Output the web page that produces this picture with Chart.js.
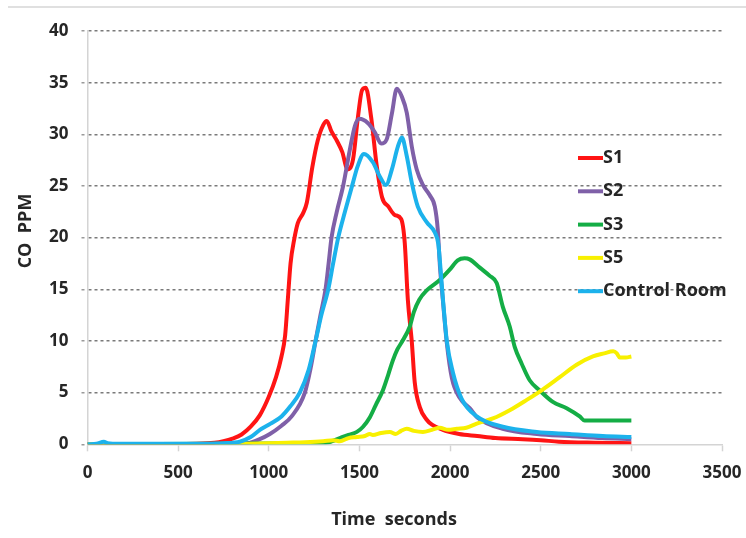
<!DOCTYPE html>
<html>
<head>
  <meta charset="UTF-8">
  <title>CO PPM</title>
  <script src="https://cdn.jsdelivr.net/npm/chart.js"></script>
  <style>
    body {
      margin: 0;
      background: #ffffff;
    }

    .chart-wrap {
      position: relative;
      width: 746px;
      height: 538px;
    }

    /* thin rule across the top of the figure */
    .chart-wrap .top-rule {
      position: absolute;
      left: 8px;
      right: 0;
      top: 6px;
      border-top: 2px solid #e0e0e0;
    }
  </style>
</head>
<body>

<div class="chart-wrap">
  <div class="top-rule"></div>
  <canvas id="coChart" width="746" height="538"></canvas>
</div>

<script>
  // time (s) / CO ppm per sensor
  const s1Time = [0, 300, 600, 700, 750, 800, 850, 900, 950, 1000, 1040, 1070, 1090, 1105, 1120, 1140, 1160, 1190, 1210, 1240,
    1270, 1300, 1320, 1345, 1375, 1405, 1435, 1465, 1490, 1515, 1535, 1565, 1595, 1625, 1660, 1695, 1730, 1750, 1767, 1789,
    1805, 1833, 1870, 1900, 1960, 2050, 2150, 2250, 2400, 2500, 2600, 2800, 3000];
  const s1Ppm = [0, 0, 0.05, 0.15, 0.3, 0.55, 0.95, 1.7, 2.8, 4.6, 6.5, 8.5, 10.5, 14, 17.5, 19.8, 21.4, 22.4, 23.4, 26.8,
    29.4, 30.9, 31.3, 30.3, 29.4, 28.3, 26.6, 27.6, 31.4, 34.3, 34.5, 31.6, 27.0, 23.9, 23.0, 22.2, 21.8, 19.5, 14, 9.9,
    6.0, 3.6, 2.4, 1.9, 1.4, 1.0, 0.8, 0.6, 0.5, 0.4, 0.25, 0.15, 0.1];

  const s2Time = [0, 600, 700, 800, 880, 950, 1006, 1070, 1126, 1199, 1230, 1258, 1285, 1313, 1330, 1346, 1375, 1410, 1447,
    1475, 1500, 1546, 1585, 1620, 1650, 1679, 1706, 1735, 1761, 1789, 1816, 1850, 1888, 1916, 1932, 1945, 1960, 1982, 2010,
    2053, 2108, 2150, 2290, 2480, 2660, 2840, 3000];
  const s2Ppm = [0, 0, 0.05, 0.05, 0.1, 0.5, 1.0, 1.8, 2.7, 5.0, 7.3, 10, 12.5, 15, 17.5, 20, 22.5, 25, 28.5,
    30.8, 31.5, 31.1, 30.2, 29.1, 29.5, 32.0, 34.4, 33.6, 32.1, 28.8, 26.6, 25.1, 24.1, 23.0, 20.8, 17.0, 14.0, 9.8, 6.4,
    4.5, 3.5, 2.6, 1.5, 1.0, 0.8, 0.6, 0.5];

  const s3Time = [0, 1300, 1350, 1392, 1440, 1486, 1520, 1557, 1590, 1629, 1660, 1684, 1710, 1734, 1778, 1800, 1830, 1871, 1943, 1998,
    2042, 2080, 2108, 2164, 2219, 2257, 2291, 2329, 2357, 2395, 2439, 2495, 2567, 2643, 2715, 2742, 2800, 3000];
  const s3Ppm = [0, 0.1, 0.3, 0.6, 0.9, 1.2, 1.7, 2.6, 3.8, 5.2, 6.8, 8.1, 9.2, 9.9, 11.4, 12.8, 14.0, 14.9, 15.9, 16.9,
    17.8, 18.0, 17.9, 17.1, 16.3, 15.6, 13.3, 11.4, 9.4, 7.8, 6.2, 5.2, 4.1, 3.5, 2.7, 2.3, 2.3, 2.3];

  const s5Time = [0, 800, 900, 1000, 1100, 1200, 1300, 1356, 1392, 1440, 1486, 1530, 1557, 1574, 1620, 1668, 1700, 1730, 1761, 1800,
    1850, 1900, 1943, 1990, 2037, 2090, 2147, 2236, 2329, 2423, 2511, 2605, 2698, 2788, 2850, 2900, 2920, 2936, 2970, 3000];
  const s5Ppm = [0, 0, 0.05, 0.1, 0.15, 0.2, 0.3, 0.4, 0.3, 0.6, 0.7, 0.8, 1.0, 0.9, 1.1, 1.2, 1.0, 1.3, 1.5, 1.3,
    1.2, 1.4, 1.6, 1.4, 1.5, 1.6, 2.0, 2.5, 3.3, 4.3, 5.3, 6.5, 7.7, 8.5, 8.8, 9.0, 8.8, 8.4, 8.4, 8.5];

  const roomTime = [0, 50, 90, 110, 140, 300, 500, 600, 750, 840, 900, 951, 1010, 1070, 1120, 1171, 1220, 1258, 1290, 1328,
    1355, 1383, 1420, 1464, 1490, 1525, 1574, 1613, 1646, 1679, 1712, 1734, 1761, 1789, 1822, 1871, 1916, 1935, 1945, 1960,
    1982, 2015, 2064, 2147, 2291, 2478, 2660, 2842, 3000];
  const roomPpm = [0, 0.05, 0.25, 0.1, 0.05, 0.05, 0.05, 0.05, 0.1, 0.25, 0.7, 1.4, 2.0, 2.7, 3.7, 5.0, 7.2, 10, 12.5, 15,
    17.5, 20, 22.5, 25.3, 26.9, 28.1, 27.3, 25.9, 25.1, 26.6, 28.8, 29.7, 27.9, 25.3, 23.0, 21.5, 20.5, 19.4, 17.5, 14.2,
    10, 7.0, 4.4, 2.7, 1.7, 1.2, 1.0, 0.8, 0.7];

  const seriesNames = ['S1', 'S2', 'S3', 'S5', 'Control Room'];
  const xTicks = [0, 500, 1000, 1500, 2000, 2500, 3000, 3500];
  const yTicks = [0, 5, 10, 15, 20, 25, 30, 35, 40];

  const textColor = '#262626';
  const fontFamily = '"Open Sans", "Liberation Sans", sans-serif';

  function toPoints(times, values) {
    return times.map((t, i) => ({ x: t, y: values[i] }));
  }

  // legend drawn inside the plot, on top of the grid
  const lineLegend = {
    id: 'lineLegend',
    afterDatasetsDraw(chart, args, opts) {
      const { ctx, chartArea } = chart;
      ctx.save();
      ctx.font = 'bold 18px ' + fontFamily;
      ctx.textBaseline = 'middle';
      ctx.textAlign = 'left';
      chart.data.datasets.forEach((ds, i) => {
        const x = chartArea.right - opts.right;
        const y = chartArea.top + opts.top + i * opts.spacing;
        ctx.strokeStyle = ds.borderColor;
        ctx.lineWidth = 4;
        ctx.beginPath();
        ctx.moveTo(x, y);
        ctx.lineTo(x + 25, y);
        ctx.stroke();
        ctx.fillStyle = textColor;
        ctx.fillText(ds.label, x + 25, y);
      });
      ctx.restore();
    }
  };

  // axis titles
  const axisTitles = {
    id: 'axisTitles',
    afterDraw(chart, args, opts) {
      const { ctx } = chart;
      ctx.save();
      ctx.font = 'bold 18px ' + fontFamily;
      ctx.fillStyle = textColor;
      ctx.textAlign = 'center';
      ctx.textBaseline = 'middle';
      ctx.fillText(opts.x.text, opts.x.left, opts.x.top);
      ctx.translate(opts.y.left, opts.y.top);
      ctx.rotate(-Math.PI / 2);
      ctx.fillText(opts.y.text, 0, 0);
      ctx.restore();
    }
  };

  const colors = ['#ff1414', '#7f60a8', '#14ad45', '#f8f000', '#1cb2ec'];
  const pairs = [[s1Time, s1Ppm], [s2Time, s2Ppm], [s3Time, s3Ppm], [s5Time, s5Ppm], [roomTime, roomPpm]];

  const datasets = pairs.map((p, i) => ({
    label: seriesNames[i],
    data: toPoints(p[0], p[1]),
    borderColor: colors[i],
    backgroundColor: colors[i],
    borderWidth: 4,
    pointRadius: 0,
    cubicInterpolationMode: 'monotone',
    fill: false,
    // later series sit on top, Control Room last
    order: seriesNames.length - 1 - i
  }));

  new Chart(document.getElementById('coChart'), {
    type: 'line',
    data: { datasets: datasets },
    plugins: [lineLegend, axisTitles],
    options: {
      responsive: false,
      animation: false,
      layout: {
        padding: { top: 31, right: 24, left: 0, bottom: 0 }
      },
      plugins: {
        legend: { display: false },
        tooltip: { enabled: false },
        lineLegend: { right: 144, top: 127, spacing: 33.3 },
        axisTitles: {
          x: { text: 'Time  seconds', left: 394, top: 520 },
          y: { text: 'CO  PPM', left: 26, top: 231 }
        }
      },
      scales: {
        x: {
          type: 'linear',
          min: 0,
          max: 3500,
          afterFit: scale => {
            scale.height = 93.7;
            // the end labels may hang past the plot edges
            scale.paddingLeft = 0;
            scale.paddingRight = 0;
          },
          afterBuildTicks: scale => { scale.ticks = xTicks.map(v => ({ value: v })); },
          ticks: {
            color: textColor,
            font: { family: fontFamily, size: 17, weight: 'bold' },
            padding: 12,
            maxRotation: 0,
            callback: v => String(v)
          },
          grid: {
            drawOnChartArea: false,
            drawTicks: true,
            tickLength: 7,
            tickColor: '#d4d4d4',
            tickWidth: 1.5
          },
          border: { display: true, color: '#d4d4d4', width: 1.5 }
        },
        y: {
          min: 0,
          max: 40,
          afterFit: scale => {
            scale.width = 87.5;
            scale.paddingTop = 0;
            scale.paddingBottom = 0;
          },
          afterBuildTicks: scale => { scale.ticks = yTicks.map(v => ({ value: v })); },
          ticks: {
            color: textColor,
            font: { family: fontFamily, size: 17, weight: 'bold' },
            padding: 13,
            callback: v => String(v)
          },
          grid: {
            color: c => (c.tick && c.tick.value === 0 ? 'rgba(0,0,0,0)' : '#7a7a7a'),
            lineWidth: 1.5,
            tickLength: 6,
            tickColor: '#9a9a9a',
            tickWidth: 1.5,
            tickBorderDash: [3, 3]
          },
          border: { display: true, color: '#d4d4d4', width: 1.5, dash: [3, 3] }
        }
      }
    }
  });
</script>

</body>
</html>
